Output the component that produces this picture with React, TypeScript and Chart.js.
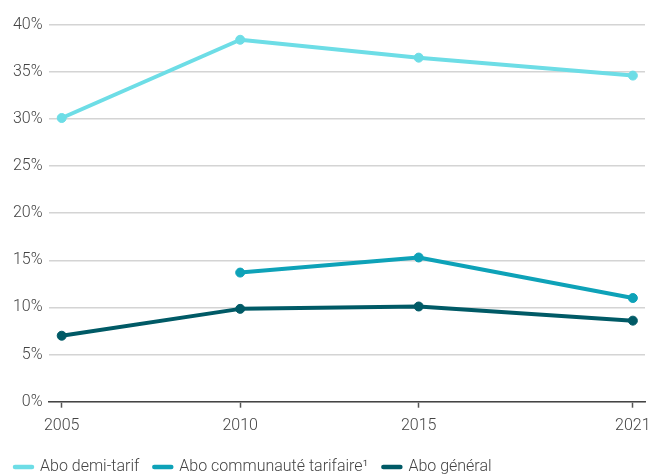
import React, { useEffect, useRef } from "react";
import { Chart, registerables } from "chart.js";

Chart.register(...registerables);

const years = [2005, 2010, 2015, 2021];
const demiTarif = [30.1, 38.4, 36.5, 34.6];
const communaute = [null, 13.7, 15.3, 11.0];
const general = [7.0, 9.85, 10.1, 8.6];
const yTicks = [0, 5, 10, 15, 20, 25, 30, 35, 40];

const seriesNames = ["Abo demi-tarif", "Abo communauté tarifaire¹", "Abo général"];
const seriesColors = ["#6ddde6", "#0ea2b8", "#005a66"];
const seriesValues = [demiTarif, communaute, general];

const FONT = "Roboto, 'Open Sans', sans-serif";
const TEXT = "#444444";
const LINE_WIDTH = 4;

// Fixed frame for the plot area and the legend row (canvas pixels)
const PLOT = { left: 48.5, right: 645, top: 24.7, bottom: 401.7 };
const LEGEND_TOP = 444;

const pinLayout = {
  id: "pinLayout",
  afterLayout(chart: any) {
    const { x, y } = chart.scales;
    const ca = chart.chartArea;
    ca.left = PLOT.left;
    ca.right = PLOT.right;
    ca.top = PLOT.top;
    ca.bottom = PLOT.bottom;
    ca.width = PLOT.right - PLOT.left;
    ca.height = PLOT.bottom - PLOT.top;

    const xh = x.bottom - x.top;
    x.left = PLOT.left;
    x.right = PLOT.right;
    x.width = PLOT.right - PLOT.left;
    x.top = PLOT.bottom;
    x.bottom = PLOT.bottom + xh;
    x.configure();

    const yw = y.right - y.left;
    y.right = PLOT.left;
    y.left = PLOT.left - yw;
    y.top = PLOT.top;
    y.bottom = PLOT.bottom;
    y.height = PLOT.bottom - PLOT.top;
    y.configure();

    const lg = chart.legend;
    if (lg) {
      const dy = LEGEND_TOP - lg.top;
      lg.top += dy;
      lg.bottom += dy;
      (lg.legendHitBoxes || []).forEach((hb: any) => (hb.top += dy));
    }
  },
};

export default function App() {
  const ref = useRef<HTMLCanvasElement | null>(null);

  useEffect(() => {
    if (!ref.current) return;
    const datasets = seriesNames.map((name, i) => ({
      label: name,
      data: years
        .map((yr, j) => ({ x: yr, y: seriesValues[i][j] }))
        .filter((p) => p.y !== null),
      borderColor: seriesColors[i],
      backgroundColor: seriesColors[i],
      pointBackgroundColor: seriesColors[i],
      pointBorderColor: seriesColors[i],
      borderWidth: LINE_WIDTH,
      pointRadius: 4.5,
      pointBorderWidth: 1,
      pointHoverRadius: 4.5,
      borderCapStyle: "round" as const,
      borderJoinStyle: "round" as const,
      tension: 0,
      fill: false,
    }));

    const defaultLabels = Chart.defaults.plugins.legend.labels.generateLabels;

    const chart = new Chart(ref.current, {
      type: "line",
      data: { datasets },
      plugins: [pinLayout],
      options: {
        animation: false,
        responsive: false,
        maintainAspectRatio: false,
        layout: { padding: { top: 24, right: 5, bottom: 0, left: 0 } },
        plugins: {
          tooltip: { enabled: false },
          legend: {
            position: "bottom",
            align: "start",
            labels: {
              usePointStyle: true,
              pointStyle: "line",
              pointStyleWidth: 17,
              padding: 15,
              color: TEXT,
              font: { family: FONT, size: 16, weight: 300 },
              generateLabels: (c: any) =>
                defaultLabels(c).map((item: any, i: number) => ({
                  ...item,
                  lineWidth: LINE_WIDTH + 0.5,
                  lineCap: "round",
                  strokeStyle: seriesColors[i],
                  fillStyle: seriesColors[i],
                })),
            },
          },
        },
        scales: {
          x: {
            type: "linear",
            min: 2004.63,
            max: 2021.34,
            afterBuildTicks: (scale: any) => {
              scale.ticks = years.map((v) => ({ value: v }));
            },
            grid: {
              drawOnChartArea: false,
              drawTicks: true,
              tickLength: 6,
              tickColor: "#555555",
              tickWidth: 1.5,
            },
            border: { display: true, color: "#444444", width: 1.5 },
            ticks: {
              color: TEXT,
              font: { family: FONT, size: 16, weight: 300 },
              padding: 9,
              maxRotation: 0,
              autoSkip: false,
              callback: (v: any) => String(v),
            },
          },
          y: {
            min: 0,
            max: 40,
            afterBuildTicks: (scale: any) => {
              scale.ticks = yTicks.map((v) => ({ value: v }));
            },
            grid: {
              color: "#d4d4d4",
              lineWidth: 1.5,
              drawTicks: false,
            },
            border: { display: false },
            ticks: {
              color: TEXT,
              font: { family: FONT, size: 16, weight: 300 },
              padding: 6,
              callback: (v: any) => `${v}%`,
            },
          },
        },
      },
    });
    return () => chart.destroy();
  }, []);

  return (
    <div style={{ position: "fixed", left: 0, top: 0, width: 650, height: 475, background: "#ffffff", overflow: "hidden" }}>
      <canvas ref={ref} width={650} height={475} />
    </div>
  );
}
